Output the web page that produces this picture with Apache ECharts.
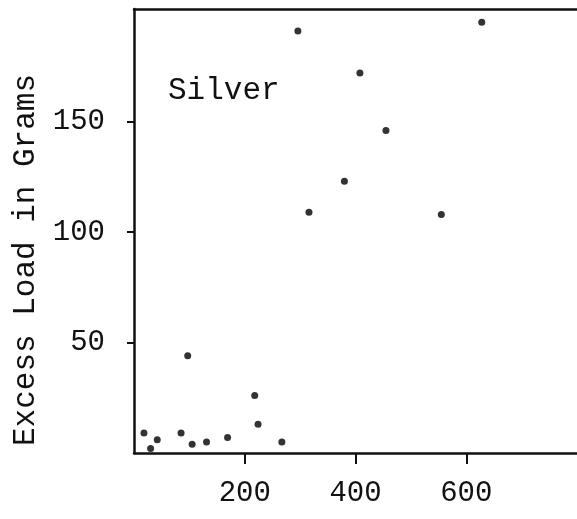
<!DOCTYPE html>
<html>
<head>
<meta charset="utf-8">
<script src="https://cdn.jsdelivr.net/npm/echarts@6/dist/echarts.min.js"></script>
<style>html,body{margin:0;padding:0;background:#fff;}#c{width:577px;height:519px;}</style>
</head>
<body>
<div id="c"></div>
<script>
const xValues = [18, 30, 42, 85, 97, 105, 131, 169, 218, 224, 267, 296, 316, 380, 408, 455, 555, 628];
const yValues = [9, 2, 6, 9, 44, 4, 5, 7, 26, 13, 5, 191, 109, 123, 172, 146, 108, 195];
const xTicks = [200, 400, 600];
const yTicks = [50, 100, 150];
const yTitle = 'Excess Load in Grams';
const label = 'Silver';

const font = '"Liberation Mono", "DejaVu Sans Mono", monospace';
const data = xValues.map((x, i) => [x, yValues[i]]);
const chart = echarts.init(document.getElementById('c'), null, {renderer: 'canvas'});
chart.setOption({
  animation: false,
  backgroundColor: '#fff',
  title: {
    text: label, left: 163, top: 70,
    textStyle: {fontFamily: font, fontSize: 31, fontWeight: 'normal', color: '#111'}
  },
  graphic: [{
    type: 'text', x: 26, y: 260, rotation: Math.PI / 2,
    style: {text: yTitle, font: '31px ' + font, fill: '#111', textAlign: 'center', textVerticalAlign: 'middle'}
  }],
  grid: {left: 134, width: 447, top: 9, bottom: 66},
  xAxis: [{
    type: 'value', min: 0, max: 800,
    splitLine: {show: false},
    axisLine: {show: true, onZero: false, lineStyle: {color: '#111', width: 2.5}},
    axisTick: {show: true, length: 11, customValues: xTicks, lineStyle: {color: '#111', width: 2}},
    axisLabel: {customValues: xTicks, margin: 26, color: '#111', fontFamily: font, fontSize: 29}
  }, {
    type: 'value', min: 0, max: 800, position: 'top',
    splitLine: {show: false},
    axisLine: {show: true, onZero: false, lineStyle: {color: '#111', width: 2.5}},
    axisTick: {show: false}, axisLabel: {show: false}
  }],
  yAxis: {
    type: 'value', min: 0, max: 201,
    splitLine: {show: false},
    axisLine: {show: true, onZero: false, lineStyle: {color: '#111', width: 2.5}},
    axisTick: {show: true, length: 7, customValues: yTicks, lineStyle: {color: '#111', width: 2}},
    axisLabel: {customValues: yTicks, margin: 29, color: '#111', fontFamily: font, fontSize: 29}
  },
  series: [{
    type: 'scatter', data: data, symbol: 'circle', symbolSize: 7,
    itemStyle: {color: '#000'}
  }]
});
</script>
</body>
</html>
